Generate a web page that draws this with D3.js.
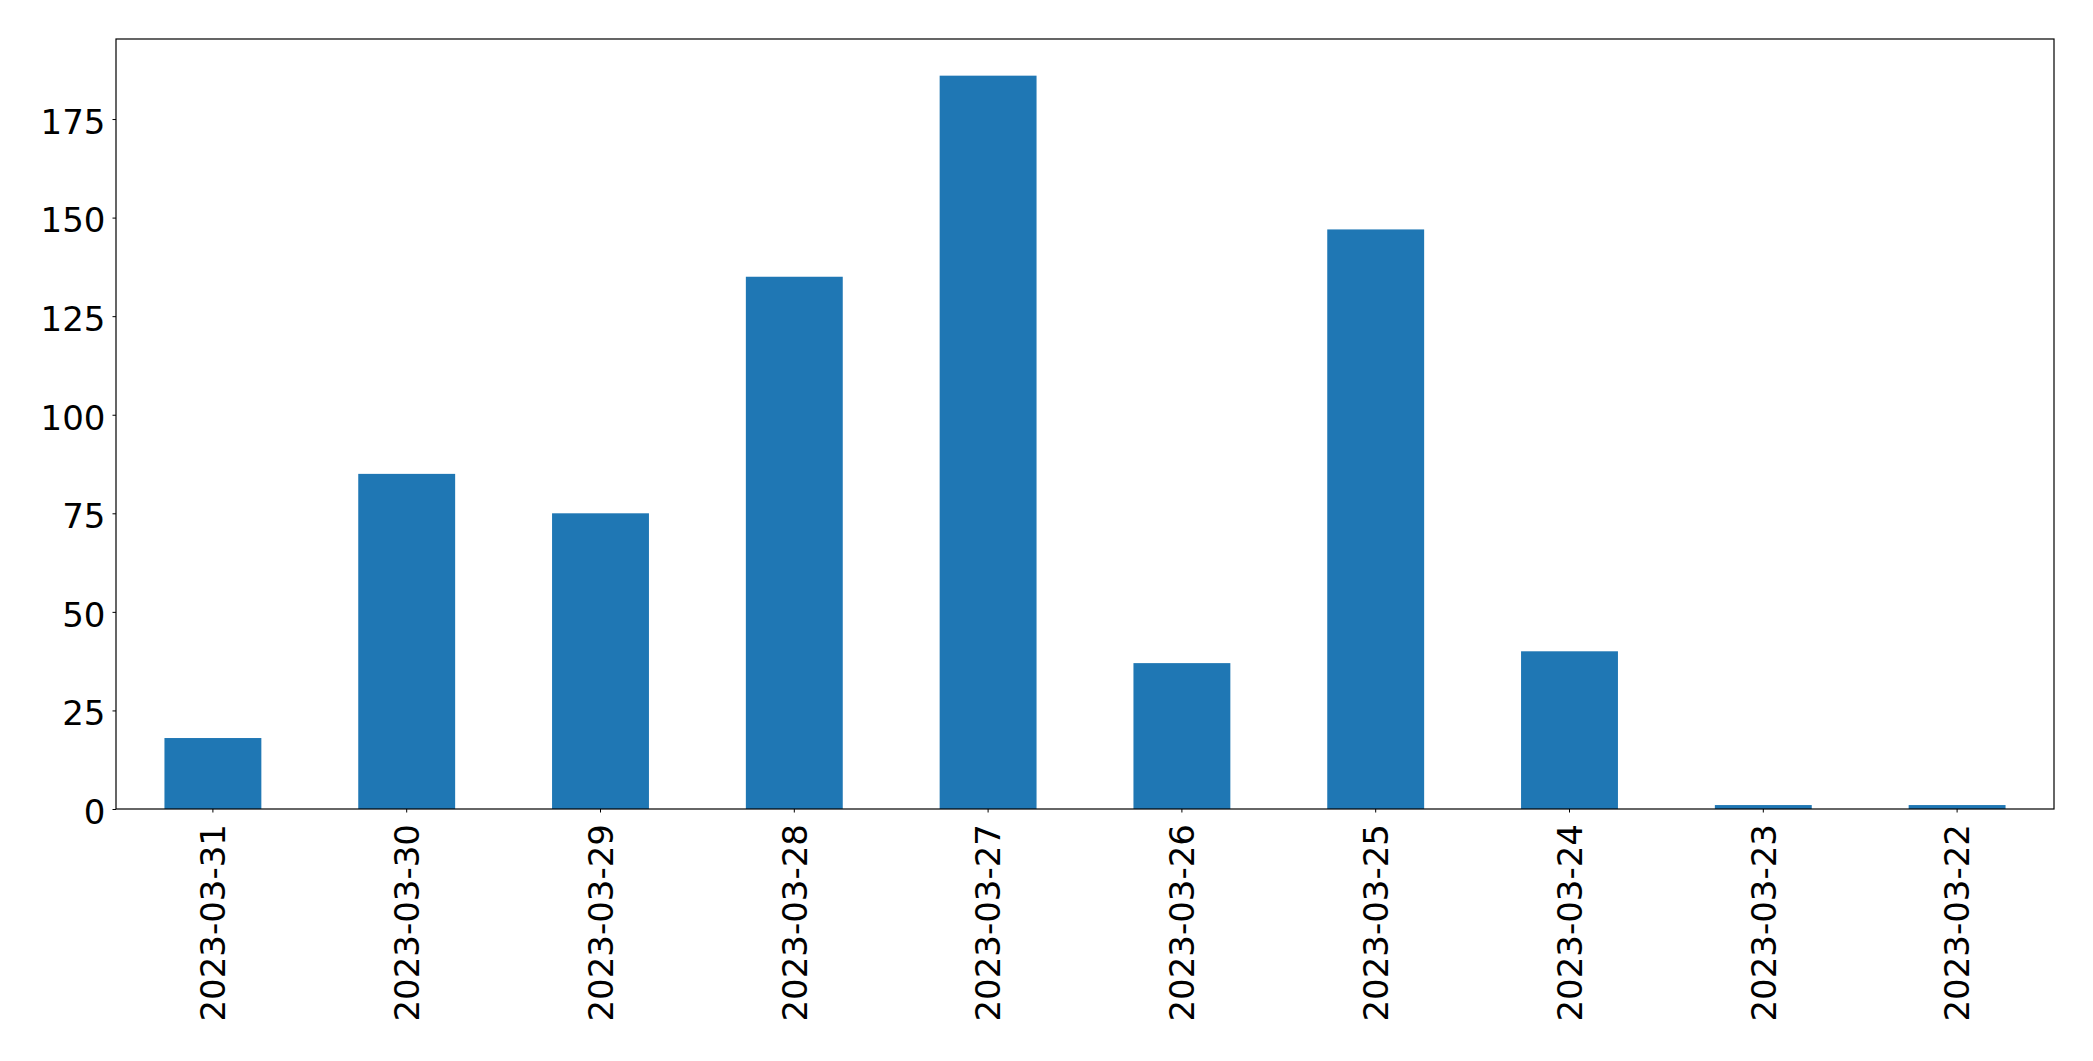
<!DOCTYPE html>
<html>
<head>
<meta charset="utf-8">
<script src="https://cdn.jsdelivr.net/npm/d3@7"></script>
<style>
  html, body { margin: 0; padding: 0; background: #fff; }
  svg { display: block; }
</style>
</head>
<body>
<svg id="chart" width="2093" height="1061"></svg>
<script>
const categories = ["2023-03-31","2023-03-30","2023-03-29","2023-03-28","2023-03-27","2023-03-26","2023-03-25","2023-03-24","2023-03-23","2023-03-22"];
const values = [18, 85, 75, 135, 186, 37, 147, 40, 1, 1];
const yTicks = [0, 25, 50, 75, 100, 125, 150, 175];

const W = 2093, H = 1061;
const margin = { left: 116, top: 39, right: 2093 - 2054, bottom: 1061 - 809 };
const iw = W - margin.left - margin.right;
const ih = H - margin.top - margin.bottom;
const font = "DejaVu Sans, sans-serif";
const fs = 34;

const svg = d3.select("#chart");
const g = svg.append("g").attr("transform", `translate(${margin.left},${margin.top})`);

const x = d3.scaleBand().domain(categories).range([0, iw]).paddingInner(0.5).paddingOuter(0.25);
const y = d3.scaleLinear().domain([0, d3.max(values) * 1.05]).range([ih, 0]);

g.selectAll("rect.bar").data(categories).join("rect")
  .attr("class", "bar")
  .attr("x", d => x(d))
  .attr("width", x.bandwidth())
  .attr("y", (d, i) => y(values[i]))
  .attr("height", (d, i) => y(0) - y(values[i]))
  .attr("fill", "#1f77b4");

// Y axis
const yAxis = g.append("g").call(d3.axisLeft(y).tickValues(yTicks).tickSize(3.5).tickPadding(0).tickFormat(d3.format("d")));
yAxis.select(".domain").remove();
yAxis.selectAll(".tick line").attr("stroke", "#000").attr("stroke-width", 1);
yAxis.selectAll(".tick text")
  .attr("x", -10.5).attr("dy", "0.42em")
  .attr("fill", "#000")
  .style("font-family", font).style("font-size", fs + "px");

// X axis
const xAxis = g.append("g").attr("transform", `translate(0,${ih})`)
  .call(d3.axisBottom(x).tickSize(3.5).tickPadding(0));
xAxis.select(".domain").remove();
xAxis.selectAll(".tick line").attr("stroke", "#000").attr("stroke-width", 1);
xAxis.selectAll(".tick text")
  .attr("transform", "rotate(-90)")
  .attr("x", -15).attr("y", 0).attr("dy", "0.36em")
  .attr("text-anchor", "end")
  .attr("fill", "#000")
  .style("font-family", font).style("font-size", fs + "px");

// Frame
g.append("rect").attr("x", 0).attr("y", 0).attr("width", iw).attr("height", ih)
  .attr("fill", "none").attr("stroke", "#000").attr("stroke-width", 1.2);
</script>
</body>
</html>
